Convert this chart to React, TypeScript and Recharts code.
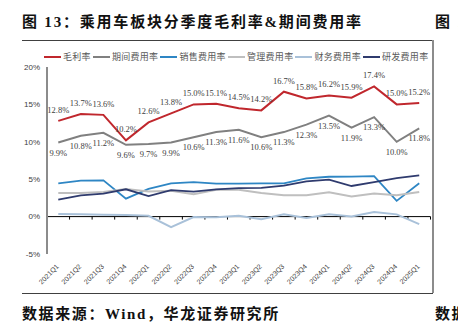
import React from "react"
import { LineChart, Line, XAxis, YAxis, ReferenceLine, LabelList } from "recharts"

const quarters = [
  "2021Q1", "2021Q2", "2021Q3", "2021Q4",
  "2022Q1", "2022Q2", "2022Q3", "2022Q4",
  "2023Q1", "2023Q2", "2023Q3", "2023Q4",
  "2024Q1", "2024Q2", "2024Q3", "2024Q4",
  "2025Q1",
]
const grossMargin = [12.8, 13.7, 13.6, 10.2, 12.6, 13.8, 15.0, 15.1, 14.5, 14.2, 16.7, 15.8, 16.2, 15.9, 17.4, 15.0, 15.2]
const periodExpense = [9.9, 10.8, 11.2, 9.6, 9.7, 9.9, 10.6, 11.3, 11.6, 10.6, 11.3, 12.3, 13.5, 11.9, 13.3, 10.0, 11.8]
const salesExpense = [4.45, 4.8, 4.85, 2.4, 3.7, 4.45, 4.6, 4.4, 4.4, 4.45, 4.45, 5.1, 5.33, 5.35, 5.4, 2.1, 4.45]
const adminExpense = [3.15, 3.15, 3.3, 3.7, 3.35, 3.45, 3.0, 3.6, 3.6, 3.15, 2.85, 2.85, 3.25, 2.7, 3.1, 2.85, 3.3]
const financeExpense = [0.35, 0.3, 0.25, 0.2, 0.1, -1.4, -0.05, -0.1, 0.1, -0.35, 0.3, -0.2, 0.3, 0.0, 0.6, 0.3, -1.0]
const rdExpense = [2.27, 2.85, 3.07, 3.65, 2.75, 3.55, 3.35, 3.65, 3.8, 3.85, 4.13, 4.7, 4.93, 4.09, 4.62, 5.15, 5.5]
const yTicks = [-5, 0, 5, 10, 15, 20]

const data = quarters.map((q, i) => ({
  idx: i,
  name: q,
  gross: grossMargin[i],
  period: periodExpense[i],
  sales: salesExpense[i],
  admin: adminExpense[i],
  finance: financeExpense[i],
  rd: rdExpense[i],
}))

const series = [
  { key: "gross", name: "毛利率", color: "#C0272D", width: 2 },
  { key: "period", name: "期间费用率", color: "#808080", width: 2 },
  { key: "sales", name: "销售费用率", color: "#2E86C4", width: 1.8 },
  { key: "admin", name: "管理费用率", color: "#BFBFBF", width: 2 },
  { key: "finance", name: "财务费用率", color: "#A9C1D9", width: 2 },
  { key: "rd", name: "研发费用率", color: "#2F3B6E", width: 1.8 },
]

const serif = "'Liberation Serif', 'Noto Sans CJK SC', serif"
const pct = (v: any) => `${Number(v).toFixed(1)}%`

const XTick = ({ x, y, payload }: any) => {
  const ax = x + 1
  const ay = y + 13
  return (
    <text x={ax} y={ay} transform={`rotate(-45 ${ax} ${ay})`} textAnchor="end"
      fontSize={7} fill="#404040" fontFamily="'Liberation Sans', sans-serif">
      {quarters[payload.value]}
    </text>
  )
}

export default function App() {
  return (
    <div style={{ position: "absolute", left: 0, top: 0, width: 458, height: 327, overflow: "hidden", background: "#fff" }}>
      <div style={{ position: "absolute", left: 22, top: 10, fontFamily: serif, fontWeight: "bold", fontSize: 15, letterSpacing: 1.8, whiteSpace: "nowrap", color: "#111" }}>
        图 13：乘用车板块分季度毛利率&期间费用率
      </div>
      <div style={{ position: "absolute", left: 435, top: 10, fontFamily: serif, fontWeight: "bold", fontSize: 15, letterSpacing: 1.8, whiteSpace: "nowrap", color: "#111" }}>
        图 14：
      </div>
      <div style={{ position: "absolute", left: 22, top: 40, width: 410, height: 1, background: "#404040" }} />
      <div style={{ position: "absolute", left: 432, top: 40, width: 1.5, height: 253, background: "#8c8c8c" }} />
      <div style={{ position: "absolute", left: 22, top: 293, width: 411, height: 1, background: "#404040" }} />

      <div style={{ position: "absolute", left: 44, top: 51, display: "flex", alignItems: "center", fontFamily: "'Noto Sans CJK SC', sans-serif", fontSize: 9, color: "#595959", whiteSpace: "nowrap", lineHeight: "12px" }}>
        {series.map((s) => (
          <div key={s.key} style={{ display: "flex", alignItems: "center", marginRight: 2 }}>
            <div style={{ width: 17, height: 2, background: s.color, marginRight: 2 }} />
            <span style={{ letterSpacing: 0.3 }}>{s.name}</span>
          </div>
        ))}
      </div>

      <div style={{ position: "absolute", left: 0, top: 0 }}>
        <LineChart width={458} height={327} data={data} margin={{ top: 67, right: 27.5, left: 0, bottom: 43 }}>
          <XAxis dataKey="idx" type="number" domain={[-0.5, 16.5]} ticks={quarters.map((_, i) => i)}
            interval={0} axisLine={false} tickLine={false} tickSize={0} tickMargin={0} height={30} tick={<XTick />} />
          <YAxis type="number" domain={[-5, 20]} ticks={yTicks} interval={0} width={47}
            tickFormatter={(v) => `${v}%`} tick={{ fontSize: 8, fill: "#404040", fontFamily: "'Liberation Sans', sans-serif" }}
            tickLine={false} tickSize={0} tickMargin={7} axisLine={{ stroke: "#8c8c8c", strokeWidth: 2 }} />
          <ReferenceLine y={0} stroke="#000" strokeWidth={1} />
          {quarters.map((_, i) => (
            <ReferenceLine key={"t" + i} segment={[{ x: i + 0.5, y: 0 }, { x: i + 0.5, y: -0.4 }]} stroke="#000" strokeWidth={1} />
          ))}
          {series.map((s) => (
            <Line key={s.key} dataKey={s.key} name={s.name} stroke={s.color} strokeWidth={s.width}
              dot={false} isAnimationActive={false} type="linear">
              {s.key === "gross" && (
                <LabelList dataKey="gross" position="top" offset={8} formatter={pct} fontSize={8.5} fill="#404040" />
              )}
              {s.key === "period" && (
                <LabelList dataKey="period" position="bottom" offset={7} formatter={pct} fontSize={8.5} fill="#404040" />
              )}
            </Line>
          ))}
        </LineChart>
      </div>

      <div style={{ position: "absolute", left: 22, top: 302, fontFamily: serif, fontWeight: "bold", fontSize: 15, letterSpacing: 1.6, whiteSpace: "nowrap", color: "#111" }}>
        数据来源：Wind，华龙证券研究所
      </div>
      <div style={{ position: "absolute", left: 435, top: 302, fontFamily: serif, fontWeight: "bold", fontSize: 15, letterSpacing: 1.6, whiteSpace: "nowrap", color: "#111" }}>
        数据来源
      </div>
    </div>
  )
}
